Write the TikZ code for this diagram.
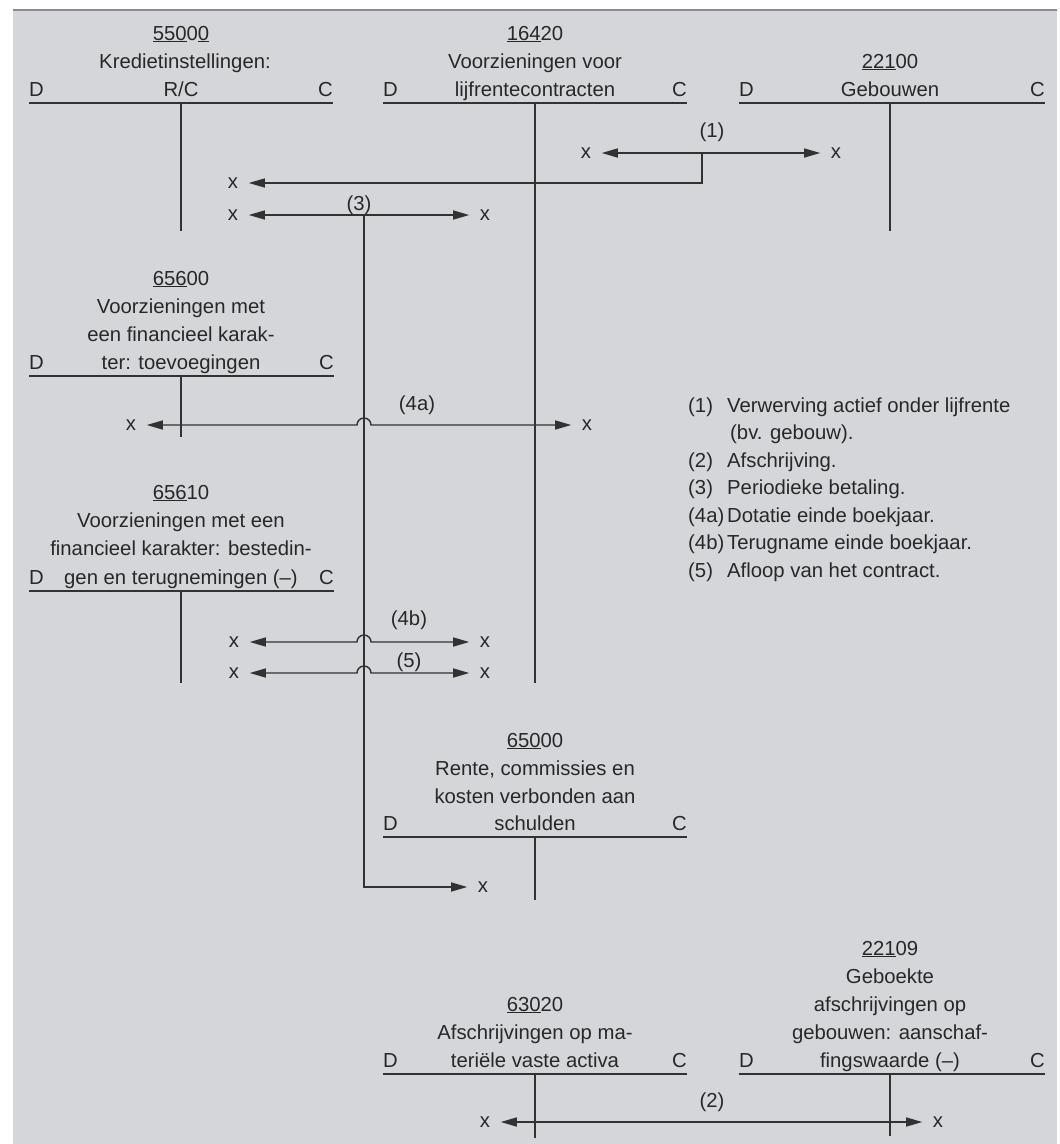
\documentclass[tikz,border=0pt]{standalone}
\usepackage{fontspec}
\setmainfont{Liberation Sans}
\usetikzlibrary{arrows.meta}
\definecolor{bg}{RGB}{213,214,218}
\definecolor{ink}{RGB}{40,40,40}
\definecolor{rulec}{RGB}{50,50,50}
\definecolor{topline}{RGB}{140,140,142}
\begin{document}
\begin{tikzpicture}[x=1pt,y=-1pt,
  every node/.style={font=\fontsize{20.3}{28}\selectfont, text=ink, inner sep=0pt},
  txt/.style={anchor=base},
  dl/.style={anchor=base west},
  cl/.style={anchor=base east},
  lbl/.style={anchor=center},
  xm/.style={anchor=center, inner xsep=10.5pt, inner ysep=0pt},
  acct/.style={draw=rulec, line width=1.4pt},
  link/.style={draw=rulec, line width=1.4pt},
  arr/.style={link, -{Triangle[length=16pt,width=9pt]}},
  darr/.style={link, {Triangle[length=16pt,width=9pt]}-{Triangle[length=16pt,width=9pt]}}
]
\useasboundingbox (0,0) rectangle (1060,1144);
\fill[bg] (13,10) rectangle (1057,1144);
\draw[topline, line width=2pt] (13,10) -- (1057,10);

% ---------- 55000
\node[txt] (a1n) at (181,40) {\underline{550}0\underline{0}};
\node[txt] (a1t) at (185,68) {Kredietinstellingen:};
\node[dl] (a1d) at (29,96) {D};
\node[txt] (a1r) at (181,96) {R/C};
\node[cl] (a1c) at (333,96) {C};
\draw[acct] (29,103) -- (333,103);
\draw[acct] (181,103) -- (181,231);

% ---------- 16420
\node[txt] (a2n) at (535,40) {\underline{164}20};
\node[txt] (a2t) at (535,68) {Voorzieningen voor};
\node[dl] (a2d) at (383,96) {D};
\node[txt] (a2r) at (535,96) {lijfrentecontracten};
\node[cl] (a2c) at (687,96) {C};
\draw[acct] (383,103) -- (687,103);
\draw[acct] (535,103) -- (535,683);

% ---------- 22100
\node[txt] (a3n) at (890,68) {\underline{221}00};
\node[dl] (a3d) at (739,96) {D};
\node[txt] (a3r) at (890,96) {Gebouwen};
\node[cl] (a3c) at (1045,96) {C};
\draw[acct] (739,103) -- (1045,103);
\draw[acct] (890,103) -- (890,231);

% ---------- 65600
\node[txt] (a4n) at (181,285) {\underline{656}00};
\node[txt] (a4t1) at (181,313) {Voorzieningen met};
\node[txt] (a4t2) at (181,341) {een financieel karak-};
\node[dl] (a4d) at (29,369) {D};
\node[txt] (a4r) at (181,369) {ter: toevoegingen};
\node[cl] (a4c) at (334,369) {C};
\draw[acct] (29,376) -- (334,376);
\draw[acct] (181,376) -- (181,437);

% ---------- 65610
\node[txt] (a5n) at (181,499) {\underline{656}10};
\node[txt] (a5t1) at (181,527) {Voorzieningen met een};
\node[txt] (a5t2) at (181,555) {financieel karakter: bestedin-};
\node[dl] (a5d) at (29,584) {D};
\node[txt] (a5r) at (181,584) {gen en terugnemingen (--)};
\node[cl] (a5c) at (334,584) {C};
\draw[acct] (29,591) -- (334,591);
\draw[acct] (181,591) -- (181,683);

% ---------- 65000
\node[txt] (a6n) at (535,747) {\underline{650}00};
\node[txt] (a6t1) at (535,775) {Rente, commissies en};
\node[txt] (a6t2) at (535,803) {kosten verbonden aan};
\node[dl] (a6d) at (383,830) {D};
\node[txt] (a6r) at (535,830) {schulden};
\node[cl] (a6c) at (687,830) {C};
\draw[acct] (383,837) -- (687,837);
\draw[acct] (535,837) -- (535,900);

% ---------- 63020
\node[txt] (a7n) at (535,1011) {\underline{630}20};
\node[txt] (a7t) at (535,1039) {Afschrijvingen op ma-};
\node[dl] (a7d) at (383,1067) {D};
\node[txt] (a7r) at (535,1067) {teriële vaste activa};
\node[cl] (a7c) at (687,1067) {C};
\draw[acct] (383,1074) -- (687,1074);
\draw[acct] (535,1074) -- (535,1138);

% ---------- 22109
\node[txt] (a8n) at (890,955) {\underline{221}09};
\node[txt] (a8t1) at (890,983) {Geboekte};
\node[txt] (a8t2) at (890,1011) {afschrijvingen op};
\node[txt] (a8t3) at (890,1039) {gebouwen: aanschaf-};
\node[dl] (a8d) at (739,1067) {D};
\node[txt] (a8r) at (890,1067) {fingswaarde (--)};
\node[cl] (a8c) at (1045,1067) {C};
\draw[acct] (739,1074) -- (1045,1074);
\draw[acct] (890,1074) -- (890,1136);

% ---------- entry markers
\node[xm] (x1l) at (586,153) {x};
\node[xm] (x1r) at (836,153) {x};
\node[xm] (x1c) at (233,183) {x};
\node[xm] (x3l) at (233,215) {x};
\node[xm] (x3r) at (485,215) {x};
\node[xm] (x3b) at (483,887) {x};
\node[xm] (x4al) at (131,425) {x};
\node[xm] (x4ar) at (587,425) {x};
\node[xm] (x4bl) at (234,642) {x};
\node[xm] (x4br) at (485,642) {x};
\node[xm] (x5l) at (234,673) {x};
\node[xm] (x5r) at (485,673) {x};
\node[xm] (x2l) at (485,1122) {x};
\node[xm] (x2r) at (938,1122) {x};

\coordinate (j1) at (702,153);
\coordinate (j3) at (364,215);
\coordinate (b4a) at (357,425);
\coordinate (b4b) at (357,642);
\coordinate (b5) at (357,673);

% ---------- entry labels
\node[lbl] (l1) at (712,132) {(1)};
\node[lbl] (l3) at (359,205) {(3)};
\node[lbl] (l4a) at (417,405) {(4a)};
\node[lbl] (l4b) at (409,620) {(4b)};
\node[lbl] (l5) at (409,662) {(5)};
\node[lbl] (l2) at (712,1102) {(2)};

% ---------- connectors
\draw[darr] (x1l) -- (x1r);
\draw[arr] (j1) |- (x1c);
\draw[darr] (x3l) -- (x3r);
\draw[arr] (j3) |- (x3b);
\draw[darr] (x4al) -- (b4a) arc[start angle=180,end angle=0,radius=7pt] -- (x4ar);
\draw[darr] (x4bl) -- (b4b) arc[start angle=180,end angle=0,radius=7pt] -- (x4br);
\draw[darr] (x5l) -- (b5) arc[start angle=180,end angle=0,radius=7pt] -- (x5r);
\draw[darr] (x2l) -- (x2r);

% ---------- legend
\node[dl] (k1) at (688,412) {(1)};
\node[dl] (t1) at (727,412) {Verwerving actief onder lijfrente};
\node[dl] (t1b) at (730,439.5) {(bv. gebouw).};
\node[dl] (k2) at (688,467) {(2)};
\node[dl] (t2) at (727,467) {Afschrijving.};
\node[dl] (k3) at (688,494.5) {(3)};
\node[dl] (t3) at (727,494.5) {Periodieke betaling.};
\node[dl] (k4a) at (688,522) {(4a)};
\node[dl] (t4a) at (727,522) {Dotatie einde boekjaar.};
\node[dl] (k4b) at (688,549.5) {(4b)};
\node[dl] (t4b) at (727,549.5) {Terugname einde boekjaar.};
\node[dl] (k5) at (688,577) {(5)};
\node[dl] (t5) at (727,577) {Afloop van het contract.};
\end{tikzpicture}
\end{document}
